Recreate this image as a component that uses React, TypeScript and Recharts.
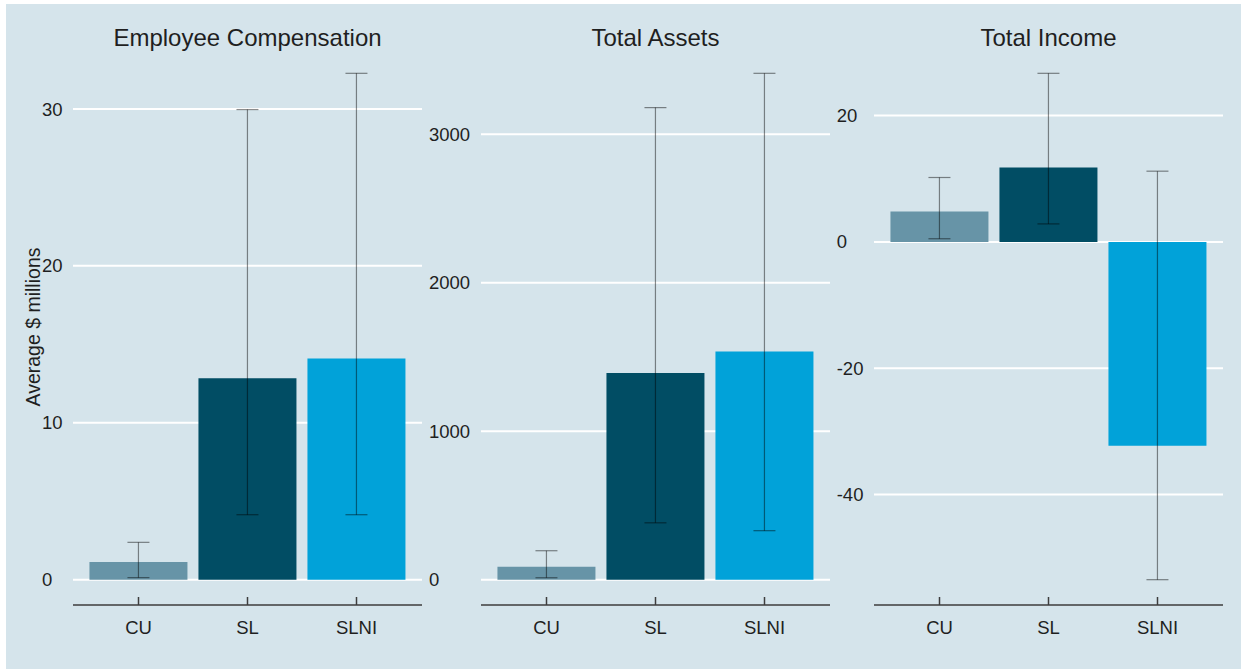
import React from 'react';
import { BarChart, Bar, XAxis, YAxis, CartesianGrid, ErrorBar, Cell } from 'recharts';

const categories = ['CU', 'SL', 'SLNI'];
const barColors = ['#6794a7', '#014d64', '#01a2d9'];

// Employee compensation, $ millions
const compensationMean = [1.13, 12.84, 14.09];
const compensationLow = [0.13, 4.14, 4.14];
const compensationHigh = [2.38, 29.96, 32.27];
const compensationTicks = [0, 10, 20, 30];

// Total assets, $ millions
const assetsMean = [87, 1392, 1537];
const assetsLow = [13, 383, 330];
const assetsHigh = [195, 3179, 3410];
const assetsTicks = [0, 1000, 2000, 3000];

// Total income, $ millions
const incomeMean = [4.8, 11.8, -32.3];
const incomeLow = [0.5, 2.85, -53.5];
const incomeHigh = [10.2, 26.7, 11.2];
const incomeTicks = [-40, -20, 0, 20];

const FONT = "'Liberation Sans', Arial, Helvetica, sans-serif";
const TEXT = '#1f1f1f';
const CHART_H = 669;
const PLOT_TOP = 48;
const PLOT_BOTTOM = 605;
const PLOT_W = 349;

interface PanelProps {
  title: string;
  means: number[];
  lows: number[];
  highs: number[];
  ticks: number[];
  left: number;
  plotLeft: number;
  width: number;
  labelX: number;
}

function Panel({ title, means, lows, highs, ticks, left, plotLeft, width, labelX }: PanelProps) {
  const data = categories.map((c, i) => ({
    name: c,
    value: means[i],
    err: [means[i] - lows[i], highs[i] - means[i]],
  }));

  // ggplot style 5% expansion around data incl. zero and error bars
  const lo = Math.min(0, ...lows, ...means);
  const hi = Math.max(0, ...highs, ...means);
  const pad = (hi - lo) * 0.05;
  const domain = [lo - pad, hi + pad];

  const yAxisW = plotLeft - left;
  const rightMargin = width - yAxisW - PLOT_W;

  const YTick = ({ y, payload }: any) => (
    <text x={labelX} y={y} dy="0.355em" textAnchor="start" fill={TEXT} fontSize={18.5} fontFamily={FONT}>
      {payload.value}
    </text>
  );

  const XTick = ({ x, payload }: any) => (
    <g>
      <line x1={x} x2={x} y1={PLOT_BOTTOM} y2={PLOT_BOTTOM - 8} stroke="#3d3d3d" strokeWidth={1.5} />
      <text x={x} y={PLOT_BOTTOM + 28.5} textAnchor="middle" fill={TEXT} fontSize={18.5} fontFamily={FONT}>
        {payload.value}
      </text>
    </g>
  );

  return (
    <>
      <div
        style={{
          position: 'absolute',
          left: plotLeft,
          top: 26,
          width: PLOT_W,
          textAlign: 'center',
          fontFamily: FONT,
          fontSize: 24,
          lineHeight: '24px',
          color: TEXT,
          whiteSpace: 'nowrap',
        }}
      >
        {title}
      </div>
      <div style={{ position: 'absolute', left, top: 0, width, height: CHART_H }}>
        <BarChart
          width={width}
          height={CHART_H}
          data={data}
          margin={{ top: PLOT_TOP, right: rightMargin, bottom: 0, left: 0 }}
          barCategoryGap="5%"
        >
          <CartesianGrid vertical={false} horizontalValues={ticks} stroke="#ffffff" strokeWidth={2} />
          <XAxis
            dataKey="name"
            height={CHART_H - PLOT_BOTTOM}
            padding={{ left: 11, right: 11 }}
            axisLine={{ stroke: '#3d3d3d', strokeWidth: 1.5 }}
            tickLine={false}
            tickSize={0}
            tickMargin={0}
            tick={<XTick />}
          />
          <YAxis
            width={yAxisW}
            domain={domain}
            allowDataOverflow
            ticks={ticks}
            axisLine={false}
            tickLine={false}
            tickSize={0}
            tickMargin={0}
            tick={<YTick />}
          />
          <Bar dataKey="value" isAnimationActive={false}>
            {data.map((d, i) => (
              <Cell key={d.name} fill={barColors[i]} />
            ))}
            <ErrorBar dataKey="err" width={11} stroke="#000000" strokeOpacity={0.45} strokeWidth={1.2} />
          </Bar>
        </BarChart>
      </div>
    </>
  );
}

export default function App() {
  return (
    <div style={{ position: 'absolute', left: 0, top: 0, width: 1243, height: 669, background: '#ffffff', overflow: 'hidden' }}>
      <div style={{ position: 'absolute', left: 6, top: 4, width: 1235, height: 665, background: '#d5e4eb' }} />
      <div
        style={{
          position: 'absolute',
          left: 33 - 150,
          top: 326.5 - 10,
          width: 300,
          height: 20,
          lineHeight: '20px',
          textAlign: 'center',
          transform: 'rotate(-90deg)',
          fontFamily: FONT,
          fontSize: 19.5,
          color: TEXT,
          whiteSpace: 'nowrap',
        }}
      >
        Average $ millions
      </div>
      <Panel
        title="Employee Compensation"
        means={compensationMean}
        lows={compensationLow}
        highs={compensationHigh}
        ticks={compensationTicks}
        left={0}
        plotLeft={73}
        width={430}
        labelX={42}
      />
      <Panel
        title="Total Assets"
        means={assetsMean}
        lows={assetsLow}
        highs={assetsHigh}
        ticks={assetsTicks}
        left={425}
        plotLeft={481}
        width={410}
        labelX={4}
      />
      <Panel
        title="Total Income"
        means={incomeMean}
        lows={incomeLow}
        highs={incomeHigh}
        ticks={incomeTicks}
        left={830}
        plotLeft={874}
        width={413}
        labelX={6.7}
      />
    </div>
  );
}
